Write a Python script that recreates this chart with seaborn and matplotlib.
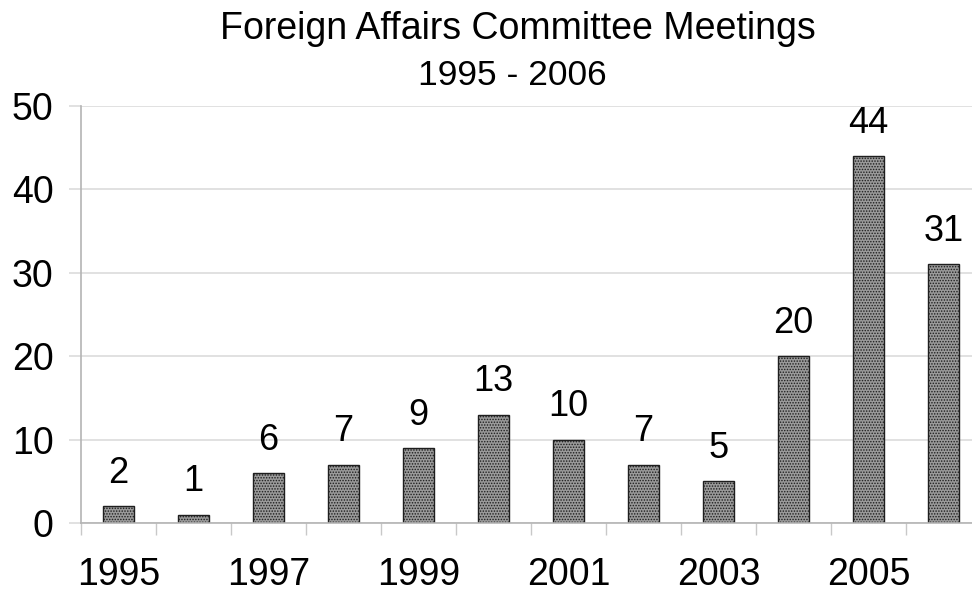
import matplotlib
matplotlib.use("Agg")
import matplotlib.pyplot as plt
import seaborn as sns
import pandas as pd

years = [1995, 1996, 1997, 1998, 1999, 2000, 2001, 2002, 2003, 2004, 2005, 2006]
meetings = [2, 1, 6, 7, 9, 13, 10, 7, 5, 20, 44, 31]
title_lines = ["Foreign Affairs Committee Meetings", "1995 - 2006"]

sns.set_theme(style="white")
plt.rcParams['font.family'] = ['Liberation Sans', 'DejaVu Sans']
plt.rcParams['hatch.linewidth'] = 0.7

df = pd.DataFrame({"year": [str(y) for y in years], "meetings": meetings})

fig = plt.figure(figsize=(9.72, 5.95), dpi=100)
ax = fig.add_axes([81/972, 1-523/595, 900/972, (523-106)/595])

sns.barplot(data=df, x="year", y="meetings", ax=ax, color="#9a9a9a",
            width=0.413, edgecolor="black", linewidth=1.0, saturation=1)
for p in ax.patches:
    p.set_hatch("......")
    p.set_edgecolor("#1e1e1e")

ax.bar_label(ax.containers[0], labels=[str(v) for v in meetings],
             padding=11, fontsize=26, color="black")

ax.set_ylim(0, 50)
ax.set_xlim(-0.5, len(years) - 0.5)
ax.set_yticks([0, 10, 20, 30, 40, 50])
ax.set_yticklabels(["0", "10", "20", "30", "40", "50"], fontsize=27, color="black")
ax.yaxis.grid(True, color="#dcdcdc", linewidth=1.2)
ax.set_axisbelow(True)
ax.tick_params(axis="y", length=8.6, width=1.2, color="#dcdcdc", pad=11, left=True)

# x: tick marks at category boundaries, labels every other year
ax.set_xticks([i - 0.5 for i in range(len(years) + 1)])
ax.set_xticklabels([""] * (len(years) + 1))
ax.set_xticks(list(range(0, len(years), 2)), minor=True)
ax.set_xticklabels([str(y) for y in years[::2]], minor=True, fontsize=27, color="black")
ax.tick_params(axis="x", which="major", length=8.6, width=1.0, color="#c8c8c8", bottom=True)
ax.tick_params(axis="x", which="minor", length=0, pad=24.5)

ax.set_xlabel("")
ax.set_ylabel("")
for side in ["top", "right"]:
    ax.spines[side].set_visible(False)
ax.spines["left"].set_color("#b4b4b4")
ax.spines["bottom"].set_color("#b4b4b4")
ax.spines["left"].set_linewidth(1.2)
ax.spines["bottom"].set_linewidth(1.2)

fig.text(518/972, 1-39/595, title_lines[0], ha="center", va="baseline", fontsize=27, color="black")
fig.text(512/972, 1-85/595, title_lines[1], ha="center", va="baseline", fontsize=25.5, color="black")

fig.savefig("out.png", dpi=100)
